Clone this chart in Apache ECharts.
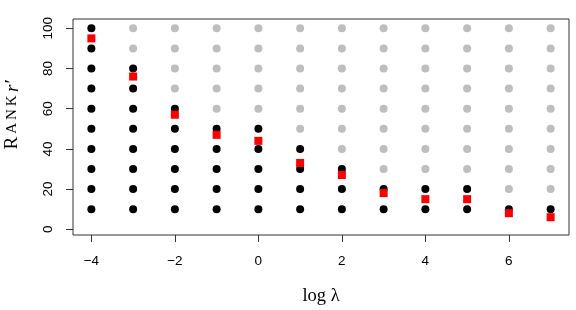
<!DOCTYPE html>
<html>
<head>
<meta charset="utf-8">
<script src="https://cdn.jsdelivr.net/npm/echarts@6/dist/echarts.min.js"></script>
<style>
  html, body { margin: 0; padding: 0; background: #fff; }
  #chart { width: 576px; height: 310px; }
</style>
</head>
<body>
<div id="chart"></div>
<script>
// log lambda values
const logLambda = [-4, -3, -2, -1, 0, 1, 2, 3, 4, 5, 6, 7];
// candidate ranks
const ranks = [10, 20, 30, 40, 50, 60, 70, 80, 90, 100];
// highest rank shown in black at each lambda
const blackTop = [100, 80, 60, 50, 50, 40, 30, 20, 20, 20, 10, 10];
// selected rank (red squares)
const chosenRank = [95, 76, 57, 47, 44, 33, 27, 18, 15, 15, 8, 6];
const xTicks = [-4, -2, 0, 2, 4, 6];
const yTicks = [0, 20, 40, 60, 80, 100];

const grayPts = [];
const blackPts = [];
logLambda.forEach((x, i) => {
  ranks.forEach(r => {
    if (r <= blackTop[i]) blackPts.push([x, r]);
    else grayPts.push([x, r]);
  });
});
const redPts = logLambda.map((x, i) => [x, chosenRank[i]]);

const chart = echarts.init(document.getElementById('chart'));

const tickStyle = { lineStyle: { color: '#333', width: 1 } };
const serif = 'Liberation Serif, DejaVu Serif, serif';
const sans = 'Liberation Sans, Arial, sans-serif';

chart.setOption({
  animation: false,
  backgroundColor: '#fff',
  grid: {
    left: 73, right: 7, top: 19, bottom: 75,
    containLabel: false, outerBoundsMode: 'none',
    show: true, borderColor: '#333', borderWidth: 1, backgroundColor: 'transparent'
  },
  xAxis: {
    type: 'value',
    min: -4.44, max: 7.44,
    axisLine: { show: false, onZero: false },
    splitLine: { show: false },
    axisTick: { show: true, inside: false, length: 7, customValues: xTicks, ...tickStyle },
    axisLabel: {
      customValues: xTicks, margin: 19,
      fontFamily: sans, fontSize: 13.5, color: '#000',
      formatter: v => (v < 0 ? '\u2212' + Math.abs(v) : String(v))
    },
    name: 'log λ',
    nameLocation: 'middle',
    nameGap: 52,
    nameTextStyle: { fontFamily: serif, fontSize: 18.5, color: '#000' }
  },
  yAxis: {
    type: 'value',
    min: -2.85, max: 104.65,
    axisLine: { show: false, onZero: false },
    splitLine: { show: false },
    axisTick: { show: true, inside: false, length: 7, customValues: yTicks, ...tickStyle },
    axisLabel: {
      customValues: yTicks, margin: 18, rotate: 90,
      fontFamily: sans, fontSize: 13.5, color: '#000'
    },
    name: '{p| }{a|R}{b|\u2009A\u2009N\u2009K} {c|r\u2032}',
    nameLocation: 'middle',
    nameGap: 51,
    nameRotate: 90,
    nameTextStyle: {
      color: '#000',
      rich: {
        p: { width: 24, fontSize: 19 },
        a: { fontFamily: serif, fontSize: 19, color: '#000' },
        b: { fontFamily: serif, fontSize: 15, color: '#000' },
        c: { fontFamily: serif, fontSize: 19, fontStyle: 'italic', color: '#000' }
      }
    }
  },
  series: [
    {
      type: 'scatter', data: grayPts, symbol: 'circle', symbolSize: 8,
      itemStyle: { color: '#BEBEBE', opacity: 1 }, silent: true
    },
    {
      type: 'scatter', data: blackPts, symbol: 'circle', symbolSize: 8,
      itemStyle: { color: '#000', opacity: 1 }, silent: true
    },
    {
      type: 'scatter', data: redPts, symbol: 'rect', symbolSize: 8,
      itemStyle: { color: '#FF0000', opacity: 1 }, silent: true
    }
  ]
});
</script>
</body>
</html>
